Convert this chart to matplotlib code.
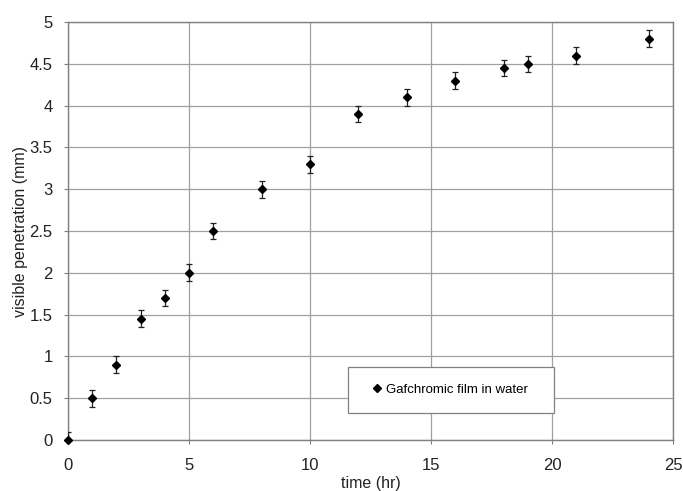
import matplotlib
matplotlib.use("Agg")
import matplotlib.pyplot as plt
from matplotlib.lines import Line2D
from matplotlib.patches import Rectangle

time_hr = [0, 1, 2, 3, 4, 5, 6, 8, 10, 12, 14, 16, 18, 19, 21, 24]
penetration_mm = [0.0, 0.5, 0.9, 1.45, 1.7, 2.0, 2.5, 3.0, 3.3, 3.9, 4.1, 4.3, 4.45, 4.5, 4.6, 4.8]
error_mm = [0.1] * len(time_hr)
x_ticks = [0, 5, 10, 15, 20, 25]
y_ticks = [0, 0.5, 1, 1.5, 2, 2.5, 3, 3.5, 4, 4.5, 5]
y_tick_labels = ["0", "0.5", "1", "1.5", "2", "2.5", "3", "3.5", "4", "4.5", "5"]
series_label = "Gafchromic film in water"

plt.rcParams['font.family'] = ['Liberation Sans', 'DejaVu Sans']

fig = plt.figure(figsize=(6.83, 4.91), dpi=100)
ax = fig.add_axes([0.0996, 0.104, 0.8858, 0.851])

ax.errorbar(time_hr, penetration_mm, yerr=error_mm, fmt='none',
            ecolor='#222222', elinewidth=0.9, capsize=2.5,
            capthick=0.9, zorder=3)
ax.plot(time_hr, penetration_mm, 'D', color='black', markersize=3.8,
        zorder=4, clip_on=False)

ax.set_xlim(0, 25)
ax.set_ylim(0, 5)
ax.set_xticks(x_ticks)
ax.set_yticks(y_ticks)
ax.set_yticklabels(y_tick_labels)
ax.grid(True, color='#a0a0a0', linewidth=0.9)
ax.set_axisbelow(True)
for s in ax.spines.values():
    s.set_color('#808080')
    s.set_linewidth(1.0)
ax.tick_params(axis='both', direction='out', length=3, width=0.8,
               color='#808080', labelsize=12, labelcolor='#222222')
ax.tick_params(axis='x', pad=10)
ax.tick_params(axis='y', pad=8)

ax.set_xlabel("time (hr)", fontsize=11.5, color='#222222', labelpad=2)
ax.set_ylabel("visible penetration (mm)", fontsize=11.5, color='#222222', labelpad=1)

# legend box
box_x0, box_y0, box_w, box_h = 0.463, 0.0646, 0.340, 0.110
ax.add_patch(Rectangle((box_x0, box_y0), box_w, box_h, transform=ax.transAxes,
                       facecolor='white', edgecolor='#808080', linewidth=0.9,
                       zorder=5))
handle = Line2D([], [], linestyle='none', marker='D', color='black', markersize=3.6)
leg = ax.legend([handle], [series_label], loc='center',
                bbox_to_anchor=(box_x0 + box_w / 2, box_y0 + box_h / 2),
                bbox_transform=ax.transAxes, fontsize=9.5, frameon=False,
                handlelength=0.5, handletextpad=0.4, borderpad=0)
leg.set_zorder(6)

fig.savefig("out.png", dpi=100)
